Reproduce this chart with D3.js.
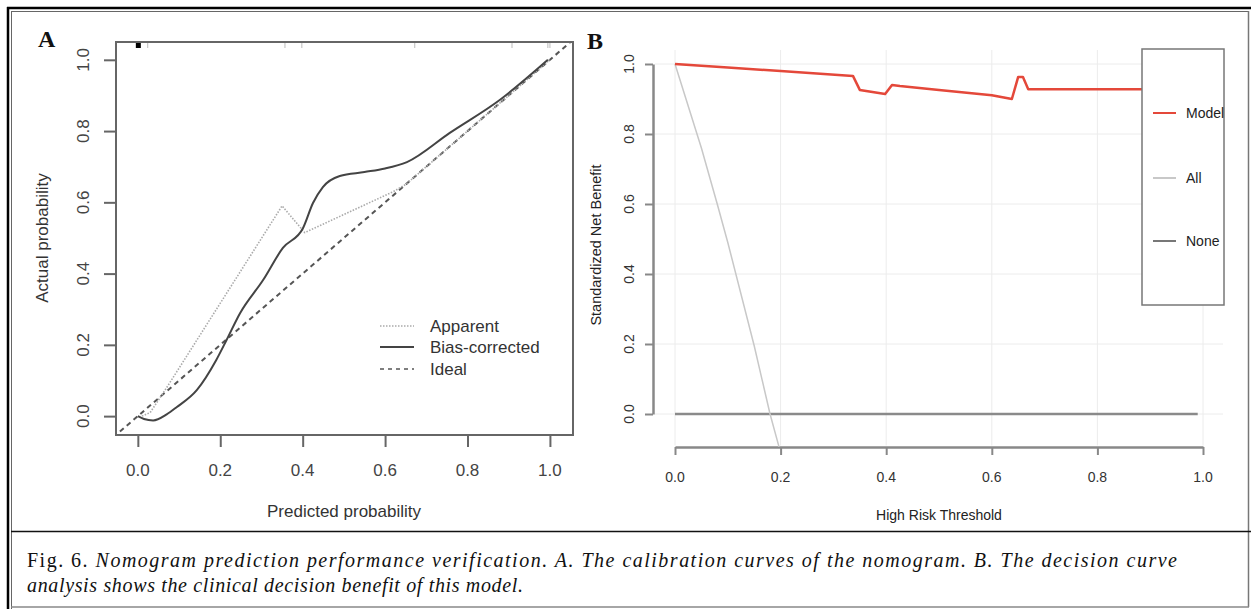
<!DOCTYPE html>
<html>
<head>
<meta charset="utf-8">
<script src="https://cdn.jsdelivr.net/npm/d3@7"></script>
<style>
  body { margin: 0; background: #fff; }
  svg { display: block; }
</style>
</head>
<body>
<div id="chart"></div>
<script>
// ---- data ----
// Panel A: calibration curves
var calTicks = [0, 0.2, 0.4, 0.6, 0.8, 1.0];
var apparentX = [0.01, 0.03, 0.07, 0.35, 0.405, 0.62, 0.65, 1.0];
var apparentY = [0.0, 0.01, 0.08, 0.59, 0.515, 0.63, 0.65, 1.0];
var biasX = [0.0, 0.015, 0.037, 0.07, 0.094, 0.143, 0.19, 0.215, 0.248, 0.304, 0.352, 0.401, 0.425, 0.449, 0.49, 0.55, 0.6, 0.653, 0.757, 0.879, 0.995];
var biasY = [0.0, -0.008, -0.012, 0.005, 0.025, 0.073, 0.157, 0.213, 0.289, 0.382, 0.472, 0.528, 0.598, 0.643, 0.674, 0.685, 0.695, 0.713, 0.795, 0.888, 1.0];
var ideal = [-0.06, 1.06];
var rugX = [0.024, 0.357, 0.398, 0.672, 0.908, 0.995, 1.0];
var calLegend = ["Apparent", "Bias-corrected", "Ideal"];

// Panel B: decision curve
var dcaTicks = [0, 0.2, 0.4, 0.6, 0.8, 1.0];
var modelX = [0, 0.1, 0.2, 0.337, 0.35, 0.398, 0.411, 0.426, 0.5, 0.6, 0.638, 0.65, 0.659, 0.669, 0.8, 0.99];
var modelY = [1.0, 0.99, 0.98, 0.966, 0.926, 0.914, 0.94, 0.937, 0.926, 0.911, 0.9, 0.963, 0.963, 0.928, 0.928, 0.928];
var allX = [0, 0.05, 0.08, 0.1, 0.15, 0.18, 0.197];
var allY = [1.0, 0.76, 0.6, 0.49, 0.195, 0.0, -0.094];
var noneX = [0, 0.99];
var noneY = [0, 0];
var dcaLegend = ["Model", "All", "None"];

var caption1 = "Nomogram prediction performance verification. A. The calibration curves of the nomogram. B. The decision curve";
var caption2 = "analysis shows the clinical decision benefit of this model.";

var svg = d3.select("#chart").append("svg")
  .attr("width", 1251)
  .attr("height", 609);

var sans = "'Liberation Sans', Arial, Helvetica, sans-serif";

// ---- frame ----
var frame = svg.append("g");
frame.append("line").attr("x1", 7).attr("x2", 1251).attr("y1", 8).attr("y2", 8).attr("stroke", "#000").attr("stroke-width", 2.5);
frame.append("line").attr("x1", 8).attr("x2", 8).attr("y1", 7).attr("y2", 609).attr("stroke", "#000").attr("stroke-width", 2.5);
frame.append("line").attr("x1", 11).attr("x2", 1248).attr("y1", 11.5).attr("y2", 11.5).attr("stroke", "#666").attr("stroke-width", 1);
frame.append("line").attr("x1", 11.5).attr("x2", 11.5).attr("y1", 11).attr("y2", 609).attr("stroke", "#666").attr("stroke-width", 1);
frame.append("line").attr("x1", 1248.5).attr("x2", 1248.5).attr("y1", 11).attr("y2", 607).attr("stroke", "#777").attr("stroke-width", 1.5);
frame.append("line").attr("x1", 11).attr("x2", 1251).attr("y1", 531.5).attr("y2", 531.5).attr("stroke", "#111").attr("stroke-width", 1.5);
frame.append("line").attr("x1", 11).attr("x2", 1249).attr("y1", 607).attr("y2", 607).attr("stroke", "#888").attr("stroke-width", 1.5);

// ================= Panel A =================
var xA = d3.scaleLinear().domain([-0.053, 1.056]).range([116, 573]);
var yA = d3.scaleLinear().domain([-0.053, 1.05]).range([435, 42]);
var gA = svg.append("g");

gA.append("text").attr("x", 38).attr("y", 47)
  .attr("font-family", "'Liberation Serif', 'Times New Roman', serif")
  .attr("font-weight", "bold").attr("font-size", 24).attr("fill", "#111").text("A");

var clipA = svg.append("clipPath").attr("id", "clipA").append("rect")
  .attr("x", 116).attr("y", 42).attr("width", 457).attr("height", 393);

// ideal
gA.append("path").attr("clip-path", "url(#clipA)")
  .attr("d", d3.line().x(d => xA(d)).y(d => yA(d))(ideal))
  .attr("fill", "none").attr("stroke", "#555").attr("stroke-width", 2).attr("stroke-dasharray", "5,4");

// apparent
gA.append("path")
  .attr("d", d3.line().x((d, i) => xA(d)).y((d, i) => yA(apparentY[i]))(apparentX))
  .attr("fill", "none").attr("stroke", "#aaa").attr("stroke-width", 1.6).attr("stroke-dasharray", "1.5,1.5");

// bias-corrected
gA.append("path")
  .attr("d", d3.line().curve(d3.curveMonotoneX).x((d, i) => xA(d)).y((d, i) => yA(biasY[i]))(biasX))
  .attr("fill", "none").attr("stroke", "#444").attr("stroke-width", 2);

// rug
gA.selectAll(".rug").data(rugX).enter().append("line")
  .attr("x1", d => xA(d)).attr("x2", d => xA(d))
  .attr("y1", 43).attr("y2", 48).attr("stroke", "#bbb").attr("stroke-width", 1);
gA.append("rect").attr("x", xA(0) - 2).attr("y", 43).attr("width", 5).attr("height", 5).attr("fill", "#000");

// box
gA.append("rect").attr("x", 116).attr("y", 42).attr("width", 457).attr("height", 393)
  .attr("fill", "none").attr("stroke", "#666").attr("stroke-width", 2);

// axes
var axA = gA.append("g").attr("transform", "translate(0,435)")
  .call(d3.axisBottom(xA).tickValues(calTicks).tickSize(12).tickSizeOuter(0).tickFormat(""));
axA.select(".domain").remove();
axA.selectAll("line").attr("stroke", "#666").attr("stroke-width", 2);
var ayA = gA.append("g").attr("transform", "translate(116,0)")
  .call(d3.axisLeft(yA).tickValues(calTicks).tickSize(12).tickSizeOuter(0).tickFormat(""));
ayA.select(".domain").remove();
ayA.selectAll("line").attr("stroke", "#666").attr("stroke-width", 2);

gA.selectAll(".xlabA").data(calTicks).enter().append("text")
  .attr("x", d => xA(d)).attr("y", 476)
  .attr("text-anchor", "middle").attr("font-family", sans).attr("font-size", 17).attr("fill", "#444")
  .text(d => d.toFixed(1));
gA.selectAll(".ylabA").data(calTicks).enter().append("text")
  .attr("transform", d => "translate(83," + yA(d) + ") rotate(-90)")
  .attr("dy", "0.35em")
  .attr("text-anchor", "middle").attr("font-family", sans).attr("font-size", 17).attr("fill", "#444")
  .text(d => d.toFixed(1));

gA.append("text").attr("x", 344).attr("y", 517)
  .attr("text-anchor", "middle").attr("font-family", sans).attr("font-size", 17).attr("fill", "#333")
  .text("Predicted probability");
gA.append("text").attr("transform", "translate(42,238) rotate(-90)").attr("dy", "0.35em")
  .attr("text-anchor", "middle").attr("font-family", sans).attr("font-size", 17).attr("fill", "#333")
  .text("Actual probability");

// legend A
var legA = gA.selectAll(".legA").data(calLegend).enter().append("g")
  .attr("transform", (d, i) => "translate(0," + [326, 347, 369][i] + ")");
legA.append("line").attr("x1", 380).attr("x2", 414).attr("y1", 0).attr("y2", 0)
  .attr("stroke", (d, i) => ["#aaa", "#444", "#555"][i])
  .attr("stroke-width", (d, i) => [1.6, 2, 1.6][i])
  .attr("stroke-dasharray", (d, i) => ["1.5,1.5", null, "4,4"][i]);
legA.append("text").attr("x", 430).attr("dy", "0.35em")
  .attr("font-family", sans).attr("font-size", 17).attr("fill", "#333").text(d => d);

// ================= Panel B =================
var xB = d3.scaleLinear().domain([0, 1]).range([675, 1203]);
var yB = d3.scaleLinear().domain([0, 1]).range([414, 64]);
var gB = svg.append("g");

gB.append("text").attr("x", 587).attr("y", 49)
  .attr("font-family", "'Liberation Serif', 'Times New Roman', serif")
  .attr("font-weight", "bold").attr("font-size", 24).attr("fill", "#111").text("B");

// grid
gB.selectAll(".gv").data(dcaTicks).enter().append("line")
  .attr("x1", d => xB(d)).attr("x2", d => xB(d)).attr("y1", yB(1.04)).attr("y2", yB(-0.09))
  .attr("stroke", "#ececec").attr("stroke-width", 1);
gB.selectAll(".gh").data(dcaTicks).enter().append("line")
  .attr("x1", xB(-0.038)).attr("x2", xB(1.038)).attr("y1", d => yB(d)).attr("y2", d => yB(d))
  .attr("stroke", "#ececec").attr("stroke-width", 1);

// axes
var axB = gB.append("g").attr("transform", "translate(0,447)")
  .call(d3.axisBottom(xB).tickValues(dcaTicks).tickSize(8).tickSizeOuter(0).tickFormat(""));
axB.select(".domain").attr("stroke", "#888").attr("stroke-width", 2.5);
axB.selectAll("line").attr("stroke", "#888").attr("stroke-width", 2);
var ayB = gB.append("g").attr("transform", "translate(653,0)")
  .call(d3.axisLeft(yB).tickValues(dcaTicks).tickSize(8).tickSizeOuter(0).tickFormat(""));
ayB.select(".domain").attr("stroke", "#888").attr("stroke-width", 2.5);
ayB.selectAll("line").attr("stroke", "#888").attr("stroke-width", 2);

gB.selectAll(".xlabB").data(dcaTicks).enter().append("text")
  .attr("x", d => xB(d)).attr("y", 482)
  .attr("text-anchor", "middle").attr("font-family", sans).attr("font-size", 14).attr("fill", "#333")
  .text(d => d.toFixed(1));
gB.selectAll(".ylabB").data(dcaTicks).enter().append("text")
  .attr("transform", d => "translate(629," + yB(d) + ") rotate(-90)")
  .attr("dy", "0.35em")
  .attr("text-anchor", "middle").attr("font-family", sans).attr("font-size", 14).attr("fill", "#333")
  .text(d => d.toFixed(1));

gB.append("text").attr("x", 939).attr("y", 520)
  .attr("text-anchor", "middle").attr("font-family", sans).attr("font-size", 14).attr("fill", "#222")
  .text("High Risk Threshold");
gB.append("text").attr("transform", "translate(596,245) rotate(-90)").attr("dy", "0.35em")
  .attr("text-anchor", "middle").attr("font-family", sans).attr("font-size", 14.5).attr("fill", "#222")
  .text("Standardized Net Benefit");

// lines
gB.append("path")
  .attr("d", d3.line().x(d => xB(d)).y((d, i) => yB(noneY[i]))(noneX))
  .attr("fill", "none").attr("stroke", "#8a8a8a").attr("stroke-width", 2.5);
gB.append("path")
  .attr("d", d3.line().x(d => xB(d)).y((d, i) => yB(allY[i]))(allX))
  .attr("fill", "none").attr("stroke", "#c8c8c8").attr("stroke-width", 1.5);
gB.append("path")
  .attr("d", d3.line().x(d => xB(d)).y((d, i) => yB(modelY[i]))(modelX))
  .attr("fill", "none").attr("stroke", "#e4483a").attr("stroke-width", 2.5).attr("stroke-linejoin", "round");

// legend B
gB.append("rect").attr("x", 1142).attr("y", 49).attr("width", 82).attr("height", 256)
  .attr("fill", "#fff").attr("stroke", "#777").attr("stroke-width", 1.5);
var legB = gB.selectAll(".legB").data(dcaLegend).enter().append("g")
  .attr("transform", (d, i) => "translate(0," + [113, 178, 241][i] + ")");
legB.append("line").attr("x1", 1153).attr("x2", 1176)
  .attr("stroke", (d, i) => ["#e4483a", "#c8c8c8", "#777"][i]).attr("stroke-width", 2);
legB.append("text").attr("x", 1186).attr("dy", "0.35em")
  .attr("font-family", sans).attr("font-size", 14).attr("fill", "#222").text(d => d);

// ================= caption =================
var cap = svg.append("g").attr("font-family", "'Liberation Serif', 'Times New Roman', serif").attr("font-size", 20).attr("fill", "#111");
var t1 = cap.append("text").attr("x", 27).attr("y", 567).attr("textLength", 1150).attr("lengthAdjust", "spacing");
t1.append("tspan").text("Fig. 6. ");
t1.append("tspan").attr("font-style", "italic").text(caption1);
cap.append("text").attr("x", 27).attr("y", 592).attr("font-style", "italic")
  .attr("textLength", 496).attr("lengthAdjust", "spacing").text(caption2);
</script>
</body>
</html>
